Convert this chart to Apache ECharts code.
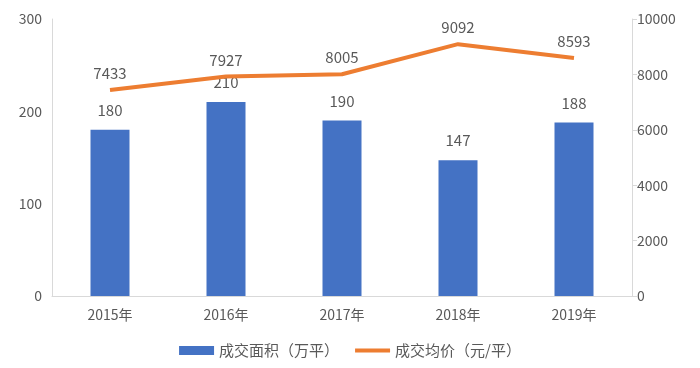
<!DOCTYPE html>
<html><head><meta charset="utf-8">
<script src="https://cdn.jsdelivr.net/npm/echarts@6/dist/echarts.min.js"></script>
<style>html,body{margin:0;padding:0;background:#fff}#c{width:700px;height:368px}</style>
</head><body><div id="c"></div>
<script>
const categories = ['2015年','2016年','2017年','2018年','2019年'];
const areaValues = [180, 210, 190, 147, 188];
const priceValues = [7433, 7927, 8005, 9092, 8593];
const leftTicks = [0, 100, 200, 300];
const rightTicks = [0, 2000, 4000, 6000, 8000, 10000];
const seriesNames = ['成交面积（万平）', '成交均价（元/平）'];

const font = '"Noto Sans CJK SC", "Noto Sans", sans-serif';
const txt = '#595959';
const chart = echarts.init(document.getElementById('c'));
chart.setOption({
  animation: false,
  textStyle: {fontFamily: font},
  grid: {left: 52, right: 68, top: 19, bottom: 72},
  legend: {
    bottom: 5, left: 'center', itemWidth: 35, itemHeight: 9, itemGap: 16,
    symbolKeepAspect: true,
    textStyle: {color: txt, fontSize: 15, fontFamily: font},
    data: [{name: seriesNames[0], icon: 'rect'},
           {name: seriesNames[1], icon: 'path://M0,0H35V4H0Z'}]
  },
  xAxis: {
    type: 'category', data: categories,
    axisLine: {lineStyle: {color: '#d9d9d9', width: 1}},
    axisTick: {show: false},
    axisLabel: {color: txt, fontSize: 14, margin: 12}
  },
  yAxis: [{
    type: 'value', min: leftTicks[0], max: leftTicks[leftTicks.length-1], interval: 100,
    axisLine: {show: true, lineStyle: {color: '#d9d9d9'}},
    axisTick: {show: false},
    splitLine: {show: false},
    axisLabel: {color: txt, fontSize: 14, margin: 10}
  }, {
    type: 'value', min: rightTicks[0], max: rightTicks[rightTicks.length-1], interval: 2000,
    position: 'right',
    axisLine: {show: true, lineStyle: {color: '#d9d9d9'}},
    axisTick: {show: true, length: 5, lineStyle: {color: '#d9d9d9'}},
    splitLine: {show: false},
    axisLabel: {color: txt, fontSize: 14, margin: 5, formatter: v => String(v)}
  }],
  series: [{
    name: seriesNames[0], type: 'bar', data: areaValues, barWidth: 39,
    itemStyle: {color: '#4472C4'},
    label: {show: true, position: 'top', distance: 12, color: txt, fontSize: 15}
  }, {
    name: seriesNames[1], type: 'line', yAxisIndex: 1, data: priceValues,
    symbol: 'circle', symbolSize: 0, showSymbol: true,
    lineStyle: {color: '#ED7D31', width: 4},
    itemStyle: {color: '#ED7D31'},
    label: {show: true, position: 'top', distance: 9, color: txt, fontSize: 15}
  }]
});
</script></body></html>
